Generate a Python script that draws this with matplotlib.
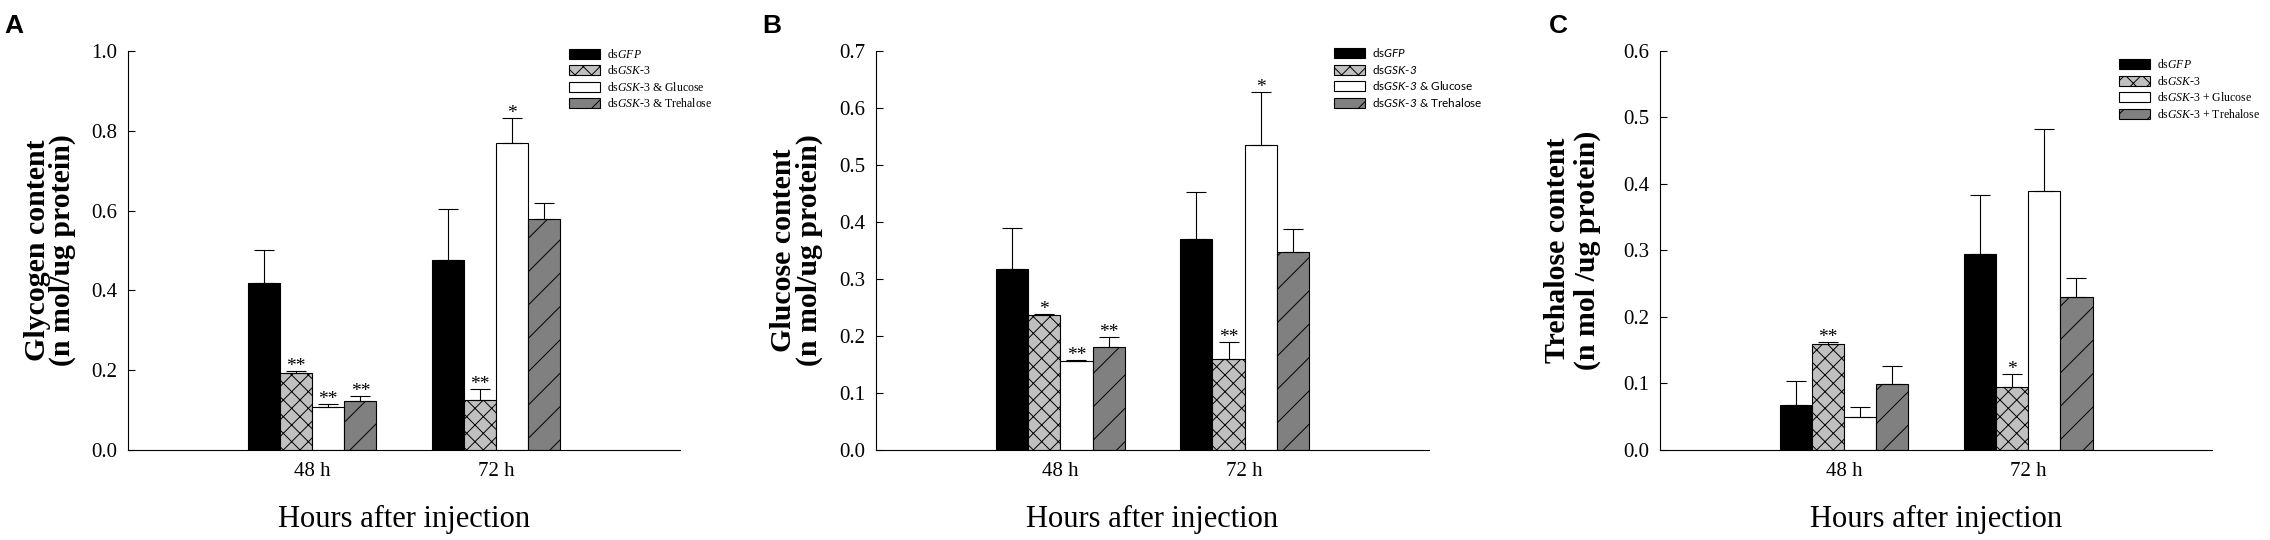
import matplotlib
matplotlib.use("Agg")
import matplotlib.pyplot as plt
import numpy as np

plt.rcParams['font.family'] = ['Liberation Serif', 'DejaVu Serif']
plt.rcParams['mathtext.fontset'] = 'custom'
plt.rcParams['mathtext.it'] = 'Liberation Serif:italic'
plt.rcParams['mathtext.rm'] = 'Liberation Serif'
plt.rcParams['mathtext.sf'] = 'Lato:italic'
plt.rcParams['hatch.linewidth'] = 0.7

groups = ['48 h', '72 h']

# panel A - glycogen
glycogen = [[0.418, 0.477], [0.192, 0.126], [0.108, 0.769], [0.122, 0.580]]
glycogen_err = [[0.084, 0.128], [0.005, 0.028], [0.006, 0.064], [0.013, 0.040]]
glycogen_stars = [['', ''], ['**', '**'], ['**', '*'], ['**', '']]

# panel B - glucose
glucose = [[0.317, 0.370], [0.237, 0.159], [0.156, 0.535], [0.180, 0.348]]
glucose_err = [[0.072, 0.082], [0.002, 0.030], [0.001, 0.093], [0.018, 0.039]]
glucose_stars = [['', ''], ['*', '**'], ['**', '*'], ['**', '']]

# panel C - trehalose
trehalose = [[0.068, 0.294], [0.159, 0.094], [0.050, 0.390], [0.099, 0.230]]
trehalose_err = [[0.036, 0.090], [0.003, 0.020], [0.015, 0.092], [0.027, 0.028]]
trehalose_stars = [['', ''], ['**', '*'], ['', ''], ['', '']]

labels_amp = ['ds$\\mathit{GFP}$', 'ds$\\mathit{GSK}$-$\\mathit{3}$',
              'ds$\\mathit{GSK}$-$\\mathit{3}$ & Glucose', 'ds$\\mathit{GSK}$-$\\mathit{3}$ & Trehalose']
labels_sans = ['ds$\\mathsf{GFP}$', 'ds$\\mathsf{GSK}$-$\\mathsf{3}$',
               'ds$\\mathsf{GSK}$-$\\mathsf{3}$ & Glucose', 'ds$\\mathsf{GSK}$-$\\mathsf{3}$ & Trehalose']
labels_plus = ['ds$\\mathit{GFP}$', 'ds$\\mathit{GSK}$-$\\mathit{3}$',
               'ds$\\mathit{GSK}$-$\\mathit{3}$ + Glucose', 'ds$\\mathit{GSK}$-$\\mathit{3}$ + Trehalose']

colors = ['black', '#c0c0c0', 'white', '#808080']
hatches = [None, 'xx', None, '/']

fig = plt.figure(figsize=(22.7, 5.4), dpi=100)
bottom, height = 0.1667, 0.7389
panels = [
    dict(rect=[0.0564, bottom, 0.2432, height], vals=glycogen, err=glycogen_err, stars=glycogen_stars,
         ymax=1.0, step=0.2, ylabel='Glycogen content\n(n mol/ug protein)', ylx=-0.142, ls=0.9,
         labels=labels_amp, lfont='Liberation Serif', leg=(0.799, 1.008), letter='A', lx=0.002),
    dict(rect=[0.3859, bottom, 0.2436, height], vals=glucose, err=glucose_err, stars=glucose_stars,
         ymax=0.7, step=0.1, ylabel='Glucose content\n(n mol/ug protein)', ylx=-0.144, ls=0.97,
         labels=labels_sans, lfont='Lato', leg=(0.828, 1.012), letter='B', lx=0.3357),
    dict(rect=[0.7313, bottom, 0.2432, height], vals=trehalose, err=trehalose_err, stars=trehalose_stars,
         ymax=0.6, step=0.1, ylabel='Trehalose content\n(n mol /ug protein)', ylx=-0.158, ls=1.12,
         labels=labels_plus, lfont='Liberation Serif', leg=(0.832, 0.982), letter='C', lx=0.6824),
]

x = np.arange(1, len(groups) + 1)
w = 0.175
for p in panels:
    ax = fig.add_axes(p['rect'])
    for i in range(4):
        pos = x + (i - 1.5) * w
        ax.bar(pos, p['vals'][i], w, color=colors[i], edgecolor='black', linewidth=0.8,
               hatch=hatches[i], label=p['labels'][i],
               yerr=[np.zeros(len(groups)), p['err'][i]], capsize=7,
               error_kw=dict(elinewidth=0.8, capthick=0.8, ecolor='black'))
        for j in range(len(groups)):
            if p['stars'][i][j]:
                ax.text(pos[j], p['vals'][i][j] + p['err'][i][j], p['stars'][i][j],
                        ha='center', va='baseline', fontsize=14)
    ax.set_xlim(0, 3)
    ax.set_ylim(0, p['ymax'])
    ax.set_yticks(np.round(np.arange(0, p['ymax'] + 1e-9, p['step']), 1))
    ax.yaxis.set_major_formatter(matplotlib.ticker.FormatStrFormatter('%.1f'))
    ax.set_xticks(x)
    ax.set_xticklabels(groups)
    ax.tick_params(axis='y', direction='in', length=5, width=0.8, pad=8, labelsize=15)
    ax.tick_params(axis='x', length=0, pad=9, labelsize=15)
    for s in ['top', 'right']:
        ax.spines[s].set_visible(False)
    for s in ['left', 'bottom']:
        ax.spines[s].set_linewidth(0.8)
    ax.set_ylabel(p['ylabel'], fontsize=21.5, fontweight='bold', linespacing=p['ls'])
    ax.yaxis.set_label_coords(p['ylx'], 0.5)
    ax.yaxis.label.set_va('center')
    ax.set_xlabel('Hours after injection', fontsize=22)
    ax.xaxis.set_label_coords(0.5, -0.173)
    ax.xaxis.label.set_va('center')
    ax.legend(loc='upper left', bbox_to_anchor=p['leg'], frameon=False, borderpad=0,
              borderaxespad=0, handlelength=2.6, handleheight=0.9, handletextpad=0.6,
              labelspacing=0.3, prop={'family': p['lfont'], 'size': 8.5})
    fig.text(p['lx'], 1 - 33 / 540, p['letter'], fontsize=19, fontweight='bold',
             family='Liberation Sans', ha='left', va='baseline')

fig.savefig('out.png', dpi=100)
